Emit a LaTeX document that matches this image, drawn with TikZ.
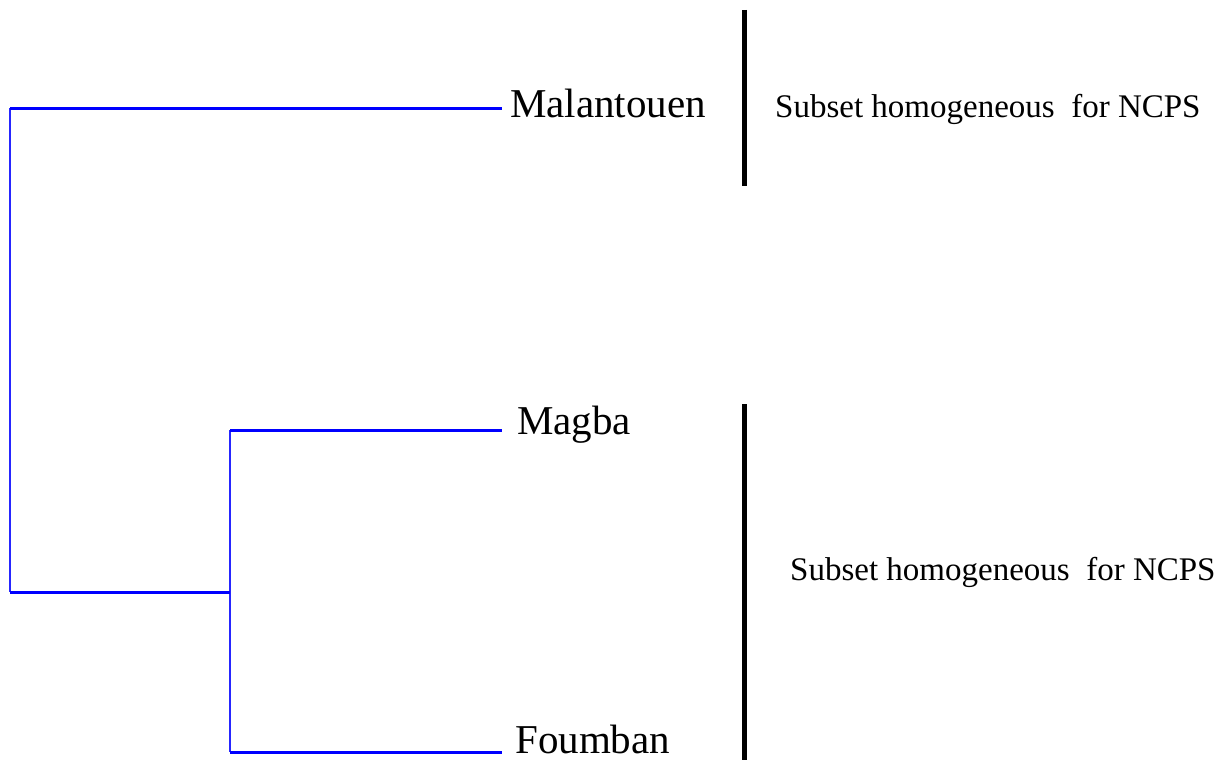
\documentclass[tikz,border=0pt]{standalone}
\usepackage{fontspec}
\setmainfont{Liberation Serif}
\begin{document}
\begin{tikzpicture}[x=1pt,y=-1pt,
  hline/.style={draw=blue,line width=3pt},
  vline/.style={draw=blue!85!white,line width=2pt},
  leaf/.style={anchor=base west,inner sep=0pt,font=\fontsize{41}{48}\selectfont},
  note/.style={anchor=base west,inner sep=0pt,font=\fontsize{33}{40}\selectfont},
  bar/.style={draw=black,line width=5pt}]
\useasboundingbox (0,0) rectangle (1230,760);
% joints
\coordinate (r1) at (10,108);
\coordinate (r2) at (10,592);
\coordinate (s0) at (230,592);
\coordinate (s1) at (230,430);
\coordinate (s2) at (230,752);
\coordinate (e1) at (502,108);
\coordinate (e2) at (502,430);
\coordinate (e3) at (502,752);
% labels
\node[leaf] (mal) at (510,117) {Malantouen};
\node[leaf] (mag) at (517,434) {Magba};
\node[leaf] (fou) at (515,753) {Foumban};
\node[note] (n1) at (775,117) {Subset homogeneous\ \ for NCPS};
\node[note] (n2) at (790,580) {Subset homogeneous\ \ for NCPS};
% bars
\coordinate (b1t) at (744.5,10);
\coordinate (b1b) at (744.5,186);
\coordinate (b2t) at (744.5,404);
\coordinate (b2b) at (744.5,760);
\draw[bar] (b1t) -- (b1b);
\draw[bar] (b2t) -- (b2b);
% dendrogram
\draw[vline] (r1) -- (r2);
\draw[vline] (s1) -- (s2);
\draw[hline] (r1) -- (e1);
\draw[hline] (r2) -- (s0);
\draw[hline] (s1) -- (e2);
\draw[hline] (s2) -- (e3);
\end{tikzpicture}
\end{document}
